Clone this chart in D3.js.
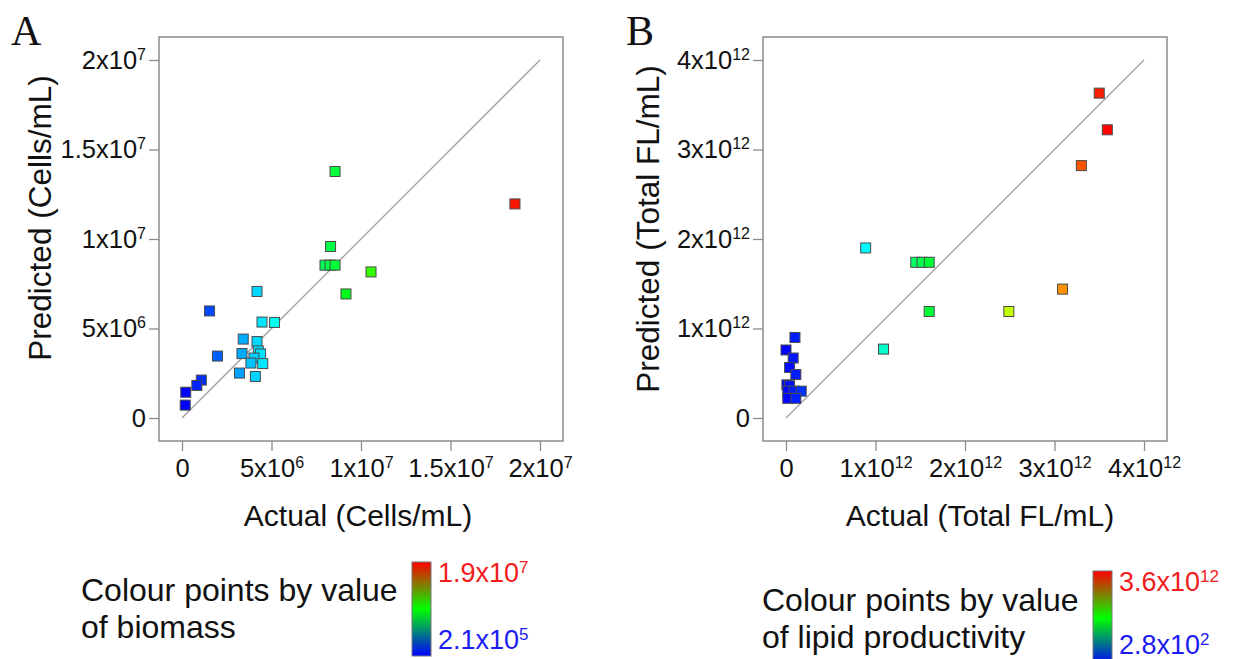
<!DOCTYPE html>
<html>
<head>
<meta charset="utf-8">
<script src="https://cdn.jsdelivr.net/npm/d3@7"></script>
<style>
  body { margin: 0; background: #fff; }
  svg { display: block; font-family: "Liberation Sans", Arial, sans-serif; }
</style>
</head>
<body>
<svg width="1234" height="659"></svg>
<script>
// panel A: biomass (cells/mL)
const aActual = [1.86e7, 8.55e6, 8.30e6, 7.99e6, 8.27e6, 8.55e6, 1.056e7, 9.16e6, 4.19e6, 4.47e6,
                 5.17e6, 1.54e6, 3.42e6, 4.19e6, 1.98e6, 3.35e6, 4.26e6, 4.39e6, 4.02e6, 3.85e6,
                 4.51e6, 3.21e6, 4.10e6, 1.08e6, 0.83e6, 0.21e6, 0.18e6];
const aPredicted = [1.196e7, 1.377e7, 9.58e6, 8.54e6, 8.54e6, 8.54e6, 8.16e6, 6.93e6, 7.07e6, 5.36e6,
                    5.34e6, 5.98e6, 4.41e6, 4.27e6, 3.46e6, 3.60e6, 3.75e6, 3.58e6, 3.35e6, 3.07e6,
                    3.04e6, 2.51e6, 2.32e6, 2.12e6, 1.82e6, 1.44e6, 0.72e6];
const aTicks = [0, 5e6, 1e7, 1.5e7, 2e7];
const aTickLabels = [["0", ""], ["5x10", "6"], ["1x10", "7"], ["1.5x10", "7"], ["2x10", "7"]];
const aColourRange = [2.1e5, 1.9e7];
const aColourLabels = [["1.9x10", "7"], ["2.1x10", "5"]];

// panel B: lipid productivity (total FL/mL)
const bActual = [3.50e12, 3.59e12, 3.30e12, 3.09e12, 2.49e12, 1.60e12, 1.45e12, 1.52e12, 1.60e12, 0.89e12,
                 1.09e12, 0.10e12, 0.00e12, 0.08e12, 0.04e12, 0.11e12, 0.01e12, 0.04e12, 0.02e12, 0.09e12,
                 0.17e12, 0.02e12, 0.11e12];
const bPredicted = [3.63e12, 3.22e12, 2.82e12, 1.44e12, 1.19e12, 1.19e12, 1.74e12, 1.74e12, 1.74e12, 1.90e12,
                    0.77e12, 0.90e12, 0.76e12, 0.67e12, 0.565e12, 0.485e12, 0.37e12, 0.36e12, 0.30e12, 0.30e12,
                    0.30e12, 0.22e12, 0.22e12];
const bTicks = [0, 1e12, 2e12, 3e12, 4e12];
const bTickLabels = [["0", ""], ["1x10", "12"], ["2x10", "12"], ["3x10", "12"], ["4x10", "12"]];
const bColourRange = [2.8e2, 3.6e12];
const bColourLabels = [["3.6x10", "12"], ["2.8x10", "2"]];

const svg = d3.select("svg");
const pad = 23;

// legend bar gradient (blue -> green -> red)
const grad = svg.append("defs").append("linearGradient")
    .attr("id", "bar").attr("x1", 0).attr("y1", 1).attr("x2", 0).attr("y2", 0);
grad.append("stop").attr("offset", "0%").attr("stop-color", "#0000ff");
grad.append("stop").attr("offset", "50%").attr("stop-color", "#00ff00");
grad.append("stop").attr("offset", "100%").attr("stop-color", "#ff0000");

function supText(sel, base, exp, supSize) {
    sel.text(null);
    sel.append("tspan").text(base);
    if (exp) sel.append("tspan").attr("dy", "-0.55em").attr("font-size", supSize).text(exp);
}

function panel(opt) {
    const x = d3.scaleLinear().domain(opt.domain).range([opt.left, opt.left + 358]);
    const y = d3.scaleLinear().domain(opt.domain).range([418, 60]);
    const colour = d3.scaleLinear().domain(opt.colourRange).range([0, 1]).clamp(true);
    const g = svg.append("g");

    // frame
    g.append("rect")
        .attr("x", opt.left - pad).attr("y", 60 - pad)
        .attr("width", 358 + 2 * pad).attr("height", 358 + 2 * pad)
        .attr("fill", "none").attr("stroke", "#8c8c8c").attr("stroke-width", 1.5);

    // axes
    const xAxis = g.append("g")
        .attr("transform", `translate(0,${418 + pad})`)
        .call(d3.axisBottom(x).tickValues(opt.ticks).tickSize(10).tickPadding(8));
    const yAxis = g.append("g")
        .attr("transform", `translate(${opt.left - pad},0)`)
        .call(d3.axisLeft(y).tickValues(opt.ticks).tickSize(10).tickPadding(3));
    [xAxis, yAxis].forEach(ax => {
        ax.select(".domain").remove();
        ax.selectAll(".tick line").attr("stroke", "#8c8c8c").attr("stroke-width", 1.3);
        ax.selectAll(".tick text")
            .attr("font-family", "Liberation Sans, Arial, sans-serif")
            .attr("font-size", 25.5).attr("fill", "#111")
            .each(function(d, i) { supText(d3.select(this), opt.tickLabels[i][0], opt.tickLabels[i][1], 16); });
    });

    // 1:1 line
    g.append("line")
        .attr("x1", x(0)).attr("y1", y(0))
        .attr("x2", x(opt.domain[1])).attr("y2", y(opt.domain[1]))
        .attr("stroke", "#a0a0a0").attr("stroke-width", 1.3);

    // points
    const pts = opt.actual.map((a, i) => ({a, p: opt.predicted[i]}));
    g.selectAll("rect.pt").data(pts).join("rect")
        .attr("class", "pt")
        .attr("x", d => x(d.a) - 5).attr("y", d => y(d.p) - 5)
        .attr("width", 10).attr("height", 10)
        .attr("fill", d => d3.hsl(240 * (1 - colour(d.a)), 1, 0.5))
        .attr("stroke", "#4a4a4a").attr("stroke-width", 1);

    // titles
    g.append("text")
        .attr("x", opt.xTitleX).attr("y", 526)
        .attr("text-anchor", "middle").attr("font-size", 30).attr("fill", "#111")
        .text(opt.xTitle);
    g.append("text")
        .attr("transform", `translate(${opt.yTitleX},${opt.yTitleY}) rotate(-90)`)
        .attr("text-anchor", "middle").attr("font-size", 31.5).attr("fill", "#111")
        .text(opt.yTitle);
    g.append("text")
        .attr("x", opt.letterX).attr("y", 45)
        .attr("font-family", "Liberation Serif, Times New Roman, serif")
        .attr("font-size", 42).attr("fill", "#111")
        .text(opt.letter);

    // colour legend
    opt.legendText.forEach((t, i) => {
        g.append("text")
            .attr("x", opt.legendX).attr("y", opt.legendY + i * 37)
            .attr("font-size", 32).attr("fill", "#111")
            .text(t);
    });
    g.append("rect")
        .attr("x", opt.barX).attr("y", opt.barY)
        .attr("width", 19).attr("height", 94)
        .attr("fill", "url(#bar)").attr("stroke", "#777").attr("stroke-width", 1);
    opt.labelY.forEach((ly, i) => {
        const t = g.append("text")
            .attr("x", opt.barX + 26).attr("y", ly)
            .attr("font-size", 27)
            .attr("fill", i === 0 ? "#f21c1c" : "#1c1cf2");
        supText(t, opt.colourLabels[i][0], opt.colourLabels[i][1], 17);
    });
}

panel({
    left: 182, domain: [0, 2e7], ticks: aTicks, tickLabels: aTickLabels,
    actual: aActual, predicted: aPredicted, colourRange: aColourRange,
    xTitle: "Actual (Cells/mL)", xTitleX: 358,
    yTitle: "Predicted (Cells/mL)", yTitleX: 51, yTitleY: 218,
    letter: "A", letterX: 11,
    legendText: ["Colour points by value", "of biomass"], legendX: 81, legendY: 601,
    barX: 412, barY: 562, labelY: [582, 649], colourLabels: aColourLabels
});

panel({
    left: 786, domain: [0, 4e12], ticks: bTicks, tickLabels: bTickLabels,
    actual: bActual, predicted: bPredicted, colourRange: bColourRange,
    xTitle: "Actual (Total FL/mL)", xTitleX: 980,
    yTitle: "Predicted (Total FL/mL)", yTitleX: 659, yTitleY: 229,
    letter: "B", letterX: 626,
    legendText: ["Colour points by value", "of lipid productivity"], legendX: 762, legendY: 611,
    barX: 1093, barY: 571, labelY: [591, 654], colourLabels: bColourLabels
});
</script>
</body>
</html>
